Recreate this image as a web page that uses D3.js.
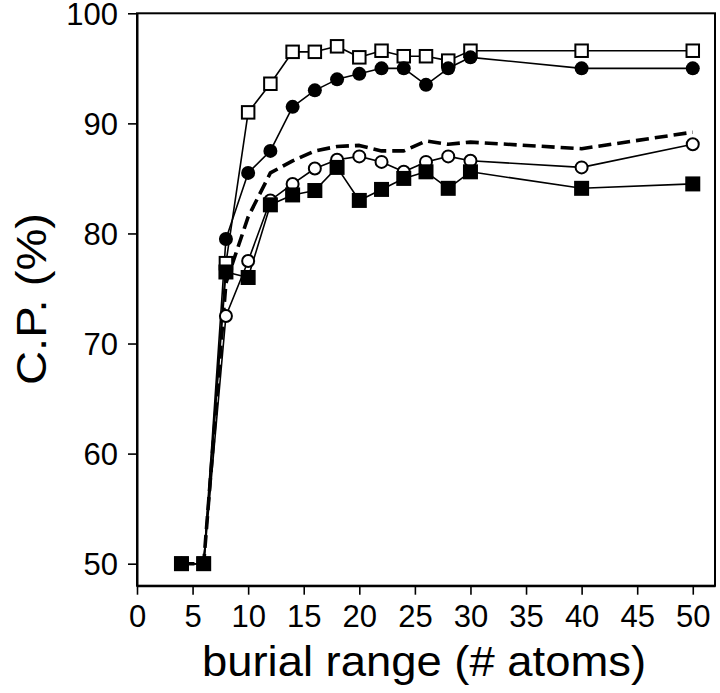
<!DOCTYPE html>
<html>
<head>
<meta charset="utf-8">
<script src="https://cdn.jsdelivr.net/npm/d3@7"></script>
<style>
  html, body { margin: 0; padding: 0; background: #fff; }
  svg { display: block; }
  text { font-family: "Liberation Sans", Arial, Helvetica, sans-serif; fill: #000; }
</style>
</head>
<body>
<script>
// ---- data ----
const burial = [4, 6, 8, 10, 12, 14, 16, 18, 20, 22, 24, 26, 28, 30, 40, 50];
const openSquares   = [50, 50, 77.3, 91.0, 93.6, 96.5, 96.5, 97.0, 96.0, 96.6, 96.1, 96.1, 95.7, 96.6, 96.6, 96.6];
const filledCircles = [50, 50, 79.5, 85.5, 87.5, 91.5, 93.0, 94.0, 94.5, 95.0, 95.0, 93.5, 95.0, 96.0, 95.0, 95.0];
const dashedAverage = [50, 50, 75.5, 81.5, 85.5, 86.6, 87.5, 87.9, 88.0, 87.5, 87.5, 88.4, 88.1, 88.3, 87.7, 89.2];
const openCircles   = [50, 50, 72.5, 77.5, 83.0, 84.5, 85.9, 86.7, 87.0, 86.5, 85.6, 86.5, 87.0, 86.6, 86.0, 88.1];
const filledSquares = [50, 50, 76.5, 76.0, 82.6, 83.5, 83.9, 86.0, 83.0, 84.0, 85.0, 85.6, 84.1, 85.6, 84.1, 84.5];
const xTicks = [0, 5, 10, 15, 20, 25, 30, 35, 40, 45, 50];
const yTicks = [50, 60, 70, 80, 90, 100];
const xTitle = "burial range (# atoms)";
const yTitle = "C.P. (%)";

// ---- layout ----
const W = 720, H = 693;
const mLeft = 137, mRight = 715, mTop = 13.3, mBottom = 585.7;

const svg = d3.select("body").append("svg").attr("width", W).attr("height", H);

const x = d3.scaleLinear().domain([0, 52]).range([mLeft, mRight]);
const y = d3.scaleLinear().domain([48, 100]).range([mBottom, mTop]);

// frame
svg.append("rect")
  .attr("x", mLeft).attr("y", mTop)
  .attr("width", mRight - mLeft).attr("height", mBottom - mTop)
  .attr("fill", "none").attr("stroke", "#000").attr("stroke-width", 2);

// axes
const xAxis = svg.append("g").attr("transform", `translate(0,${mBottom})`)
  .call(d3.axisBottom(x).tickValues(xTicks).tickSize(9).tickPadding(10).tickSizeOuter(0));
const yAxis = svg.append("g").attr("transform", `translate(${mLeft},0)`)
  .call(d3.axisLeft(y).tickValues(yTicks).tickSize(9).tickPadding(10).tickSizeOuter(0));
[xAxis, yAxis].forEach(g => {
  g.select(".domain").attr("stroke", "#000").attr("stroke-width", 2);
  g.selectAll(".tick line").attr("stroke", "#000").attr("stroke-width", 1.6);
  g.selectAll(".tick text").attr("font-size", 31)
    .attr("font-family", '"Liberation Sans", Arial, Helvetica, sans-serif').attr("fill", "#000");
});
yAxis.selectAll(".tick text").attr("dy", "0.36em");

// titles
svg.append("text")
  .attr("x", 424).attr("y", 676)
  .attr("text-anchor", "middle").attr("font-size", 43)
  .attr("textLength", 444).attr("lengthAdjust", "spacingAndGlyphs")
  .text(xTitle);
svg.append("text")
  .attr("transform", "translate(46,299) rotate(-90)")
  .attr("text-anchor", "middle").attr("font-size", 43)
  .attr("textLength", 172).attr("lengthAdjust", "spacingAndGlyphs")
  .text(yTitle);

// lines
const line = d3.line().x((d, i) => x(burial[i])).y(d => y(d));
const series = [
  { v: filledSquares, dash: null, w: 1.6 },
  { v: openCircles,   dash: null, w: 1.6 },
  { v: dashedAverage, dash: "13,6", w: 3.6 },
  { v: filledCircles, dash: null, w: 1.6 },
  { v: openSquares,   dash: null, w: 1.6 }
];
series.forEach(s => {
  svg.append("path").datum(s.v)
    .attr("d", line)
    .attr("fill", "none").attr("stroke", "#000")
    .attr("stroke-width", s.w)
    .attr("stroke-dasharray", s.dash)
    .attr("stroke-linejoin", "round");
});

// markers
function circles(vals, filled, r) {
  svg.append("g").selectAll("circle").data(vals).join("circle")
    .attr("cx", (d, i) => x(burial[i])).attr("cy", d => y(d))
    .attr("r", r)
    .attr("fill", filled ? "#000" : "#fff")
    .attr("stroke", "#000").attr("stroke-width", filled ? 0 : 2);
}
function squares(vals, filled, s) {
  svg.append("g").selectAll("rect").data(vals).join("rect")
    .attr("x", (d, i) => x(burial[i]) - s / 2).attr("y", d => y(d) - s / 2)
    .attr("width", s).attr("height", s)
    .attr("fill", filled ? "#000" : "#fff")
    .attr("stroke", "#000").attr("stroke-width", filled ? 0 : 2);
}
circles(openCircles, false, 6);
squares(openSquares, false, 12.5);
circles(filledCircles, true, 7);
squares(filledSquares, true, 15);
</script>
</body>
</html>
